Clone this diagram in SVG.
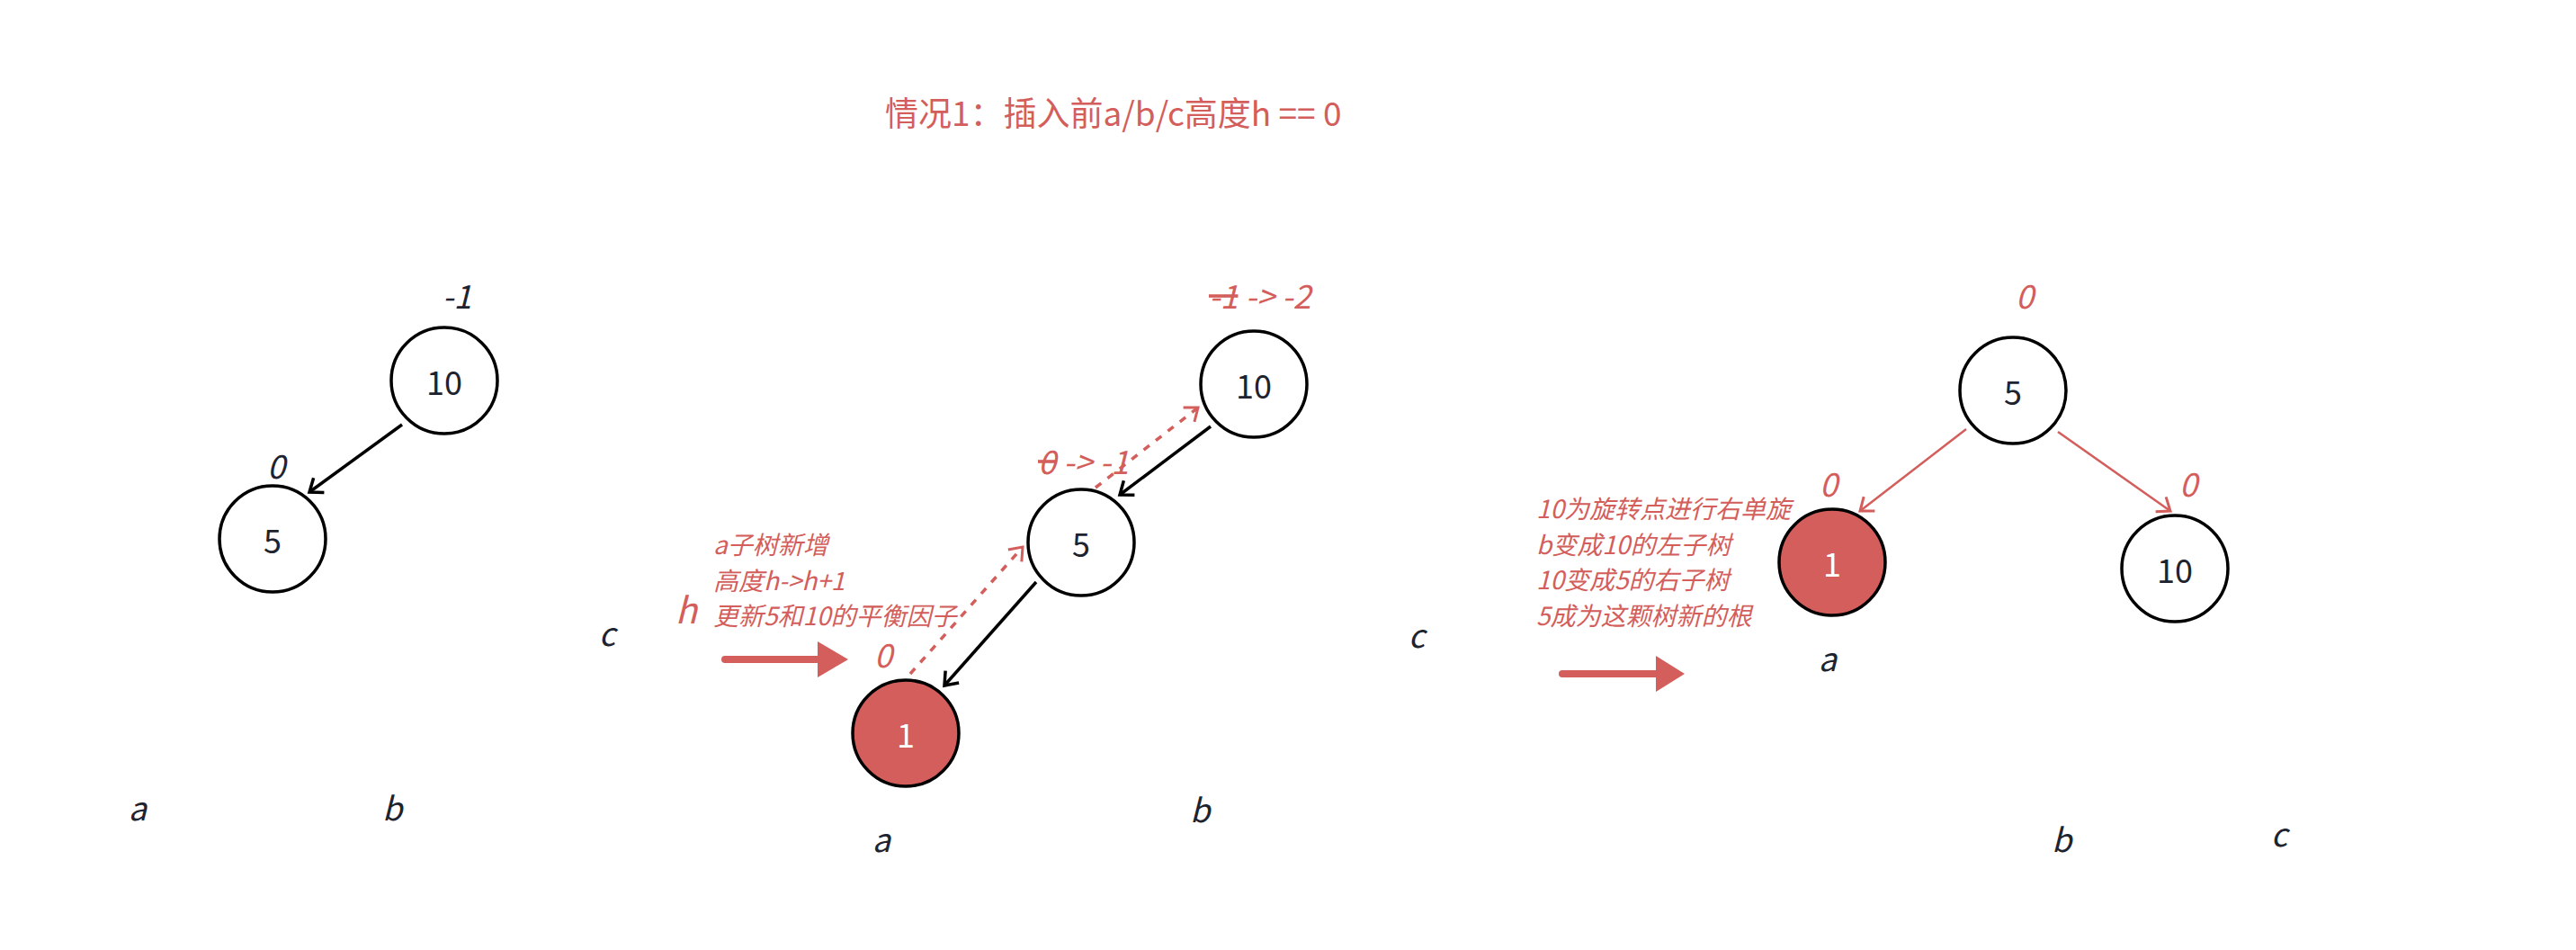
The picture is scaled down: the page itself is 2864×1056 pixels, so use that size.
<svg xmlns="http://www.w3.org/2000/svg" width="2864" height="1056" viewBox="0 0 2864 1056">
<style>
text{font-family:"Noto Sans CJK SC","Noto Sans",sans-serif}
.title{font-size:37px;fill:#d35e5b}
.num{font-size:36px;fill:#1e2330;text-anchor:middle}
.numw{font-size:36px;fill:#ffffff;text-anchor:middle}
.lbl{font-size:36px;font-style:italic;fill:#1e2330;text-anchor:middle}
.rlbl{font-size:36px;font-style:italic;fill:#d35e5b}
.note{font-size:28px;font-style:italic;fill:#d35e5b}
.node{fill:#ffffff;stroke:#000000;stroke-width:3.5}
.nodered{fill:#d35e5b;stroke:#000000;stroke-width:3.5}
.edge{fill:none;stroke:#000000;stroke-width:3.5;marker-end:url(#ab)}
.redge{fill:none;stroke:#d35e5b;stroke-width:2.5;marker-end:url(#ar)}
.dot{fill:none;stroke:#d35e5b;stroke-width:3.5;stroke-dasharray:8 9;marker-end:url(#ar)}
.bigarrow{fill:#d35e5b}
.shaft{stroke:#d35e5b;stroke-width:8;stroke-linecap:round}
.strike{text-decoration:line-through}
</style>
<defs>
<marker id="ab" markerUnits="userSpaceOnUse" viewBox="-18 -12 22 24" refX="0" refY="0" markerWidth="22" markerHeight="24" orient="auto">
<path d="M-13,-10 L0,0 L-13,10" fill="none" stroke="#000000" stroke-width="3.5"/>
</marker>
<marker id="ar" markerUnits="userSpaceOnUse" viewBox="-18 -12 22 24" refX="0" refY="0" markerWidth="22" markerHeight="24" orient="auto">
<path d="M-13,-10 L0,0 L-13,10" fill="none" stroke="#d35e5b" stroke-width="3"/>
</marker>
</defs>
<rect width="2864" height="1056" fill="#ffffff"/>

<g id="title"><text class="title" x="984" y="140">情况1：插入前a/b/c高度h == 0</text></g>

<g id="connectors">
<path class="edge" d="M447,472 L344,547"/>
<path class="edge" d="M1346,474 L1245,550"/>
<path class="edge" d="M1152,647 L1050,762"/>
<path class="dot" d="M1012,749 L1137,608"/>
<path class="dot" d="M1218,542 L1332,453"/>
<path class="redge" d="M2186,477 L2068,568"/>
<path class="redge" d="M2288,480 L2413,568"/>
</g>

<g id="tree1-n10"><circle class="node" cx="494" cy="423" r="59"/><text class="num" x="494" y="439">10</text></g>
<g id="tree1-n5"><circle class="node" cx="303" cy="599" r="59"/><text class="num" x="303" y="615">5</text></g>
<g id="tree1-labels">
<text class="lbl" x="508" y="343">-1</text>
<text class="lbl" x="307" y="532">0</text>
<text class="lbl" x="153" y="912">a</text>
<text class="lbl" x="436" y="912">b</text>
<text class="lbl" x="675" y="718">c</text>
</g>

<g id="tree2-n10"><circle class="node" cx="1394" cy="427" r="59"/><text class="num" x="1394" y="443">10</text></g>
<g id="tree2-n5"><circle class="node" cx="1202" cy="603" r="59"/><text class="num" x="1202" y="619">5</text></g>
<g id="tree2-n1"><circle class="nodered" cx="1007" cy="815" r="59"/><text class="numw" x="1007" y="831">1</text></g>
<g id="tree2-labels">
<text class="rlbl" x="1344" y="343"><tspan class="strike">-1</tspan> -&gt; -2</text>
<text class="rlbl" x="1154" y="527"><tspan class="strike">0</tspan> -&gt; -1</text>
<text class="rlbl" x="982" y="742" text-anchor="middle">0</text>
<text class="rlbl" x="763" y="693" text-anchor="middle" style="font-size:40px">h</text>
<text class="note" x="793" y="616">a子树新增</text>
<text class="note" x="793" y="656">高度h-&gt;h+1</text>
<text class="note" x="793" y="695">更新5和10的平衡因子</text>
<text class="lbl" x="980" y="947">a</text>
<text class="lbl" x="1334" y="914">b</text>
<text class="lbl" x="1575" y="720">c</text>
</g>
<g id="arrow1"><line class="shaft" x1="806" y1="733" x2="912" y2="733"/><polygon class="bigarrow" points="909,713 943,733 909,753"/></g>

<g id="tree3-n5"><circle class="node" cx="2238" cy="434" r="59"/><text class="num" x="2238" y="450">5</text></g>
<g id="tree3-n1"><circle class="nodered" cx="2037" cy="625" r="59"/><text class="numw" x="2037" y="641">1</text></g>
<g id="tree3-n10"><circle class="node" cx="2418" cy="632" r="59"/><text class="num" x="2418" y="648">10</text></g>
<g id="tree3-labels">
<text class="rlbl" x="2251" y="343" text-anchor="middle">0</text>
<text class="rlbl" x="2033" y="552" text-anchor="middle">0</text>
<text class="rlbl" x="2433" y="552" text-anchor="middle">0</text>
<text class="note" x="1708" y="576">10为旋转点进行右单旋</text>
<text class="note" x="1708" y="616">b变成10的左子树</text>
<text class="note" x="1708" y="655">10变成5的右子树</text>
<text class="note" x="1708" y="695">5成为这颗树新的根</text>
<text class="lbl" x="2032" y="746">a</text>
<text class="lbl" x="2292" y="947">b</text>
<text class="lbl" x="2534" y="941">c</text>
</g>
<g id="arrow2"><line class="shaft" x1="1737" y1="749" x2="1844" y2="749"/><polygon class="bigarrow" points="1841,729 1873,749 1841,769"/></g>
</svg>
